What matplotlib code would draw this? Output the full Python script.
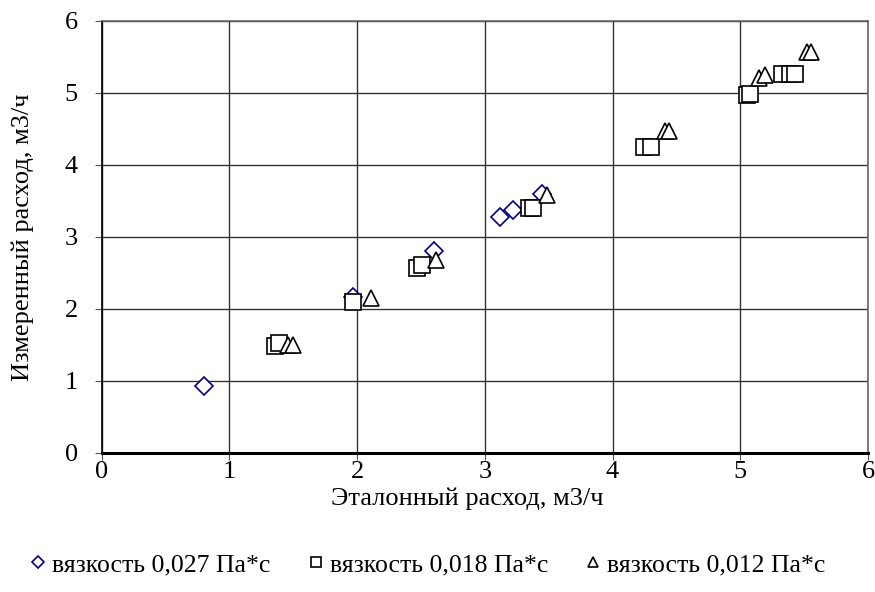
import numpy as np
import matplotlib
matplotlib.use("Agg")
import matplotlib.pyplot as plt

plt.rcParams['font.family'] = ['Liberation Serif', 'DejaVu Serif']

# вязкость 0,027 Па*с
x_027 = [0.80, 1.97, 2.60, 3.12, 3.22, 3.45]
y_027 = [0.93, 2.16, 2.80, 3.27, 3.37, 3.60]
# вязкость 0,018 Па*с
x_018 = [1.36, 1.39, 1.97, 2.47, 2.51, 3.35, 3.38, 4.25, 4.30, 5.05, 5.08, 5.33, 5.39, 5.43]
y_018 = [1.48, 1.52, 2.10, 2.56, 2.61, 3.40, 3.40, 4.25, 4.25, 4.97, 4.98, 5.26, 5.26, 5.26]
# вязкость 0,012 Па*с
x_012 = [1.46, 1.50, 2.11, 2.62, 3.49, 4.41, 4.44, 5.15, 5.19, 5.52, 5.55]
y_012 = [1.50, 1.50, 2.15, 2.68, 3.58, 4.47, 4.47, 5.21, 5.25, 5.57, 5.57]

labels = ['вязкость 0,027 Па*с', 'вязкость 0,018 Па*с', 'вязкость 0,012 Па*с']

fig = plt.figure(figsize=(8.75, 5.92), dpi=100)
ax = fig.add_axes([0.116, 0.235, 0.876, 0.73])

ax.plot(x_027, y_027, linestyle='none', marker='D', markersize=9,
        markerfacecolor='white', markeredgecolor='#000080', markeredgewidth=1.2,
        label=labels[0], zorder=3)
ax.plot(x_018, y_018, linestyle='none', marker='s', markersize=11,
        markerfacecolor='white', markeredgecolor='black', markeredgewidth=1.2,
        label=labels[1], zorder=3)
ax.plot(x_012, y_012, linestyle='none', marker='^', markersize=12,
        markerfacecolor='white', markeredgecolor='black', markeredgewidth=1.2,
        label=labels[2], zorder=3)

ax.set_xlim(0, 6)
ax.set_ylim(0, 6)
ax.set_xticks(np.arange(0, 7, 1))
ax.set_yticks(np.arange(0, 7, 1))
ax.grid(True, color='#333333', linewidth=1.0)
ax.set_axisbelow(True)
ax.tick_params(direction='out', length=5, labelsize=19, color='#555555')
ax.tick_params(axis='y', pad=12)
ax.tick_params(axis='x', pad=1)

for s in ['top', 'right']:
    ax.spines[s].set_color('#666666')
    ax.spines[s].set_linewidth(1.2)
ax.spines['left'].set_color('black')
ax.spines['left'].set_linewidth(1.2)
ax.spines['bottom'].set_color('black')
ax.spines['bottom'].set_linewidth(2.2)

ax.set_xlabel('Эталонный расход, м3/ч', fontsize=19)
ax.set_ylabel('Измеренный расход, м3/ч', fontsize=19, labelpad=22)
ax.xaxis.set_label_coords(0.477, -0.08)

fig.legend(loc='center', bbox_to_anchor=(0.49, 0.046), ncol=3, frameon=False,
           fontsize=18.5, markerscale=0.65, handlelength=0.5, handletextpad=0.3,
           columnspacing=1.5)

fig.savefig('out.png', dpi=100)
